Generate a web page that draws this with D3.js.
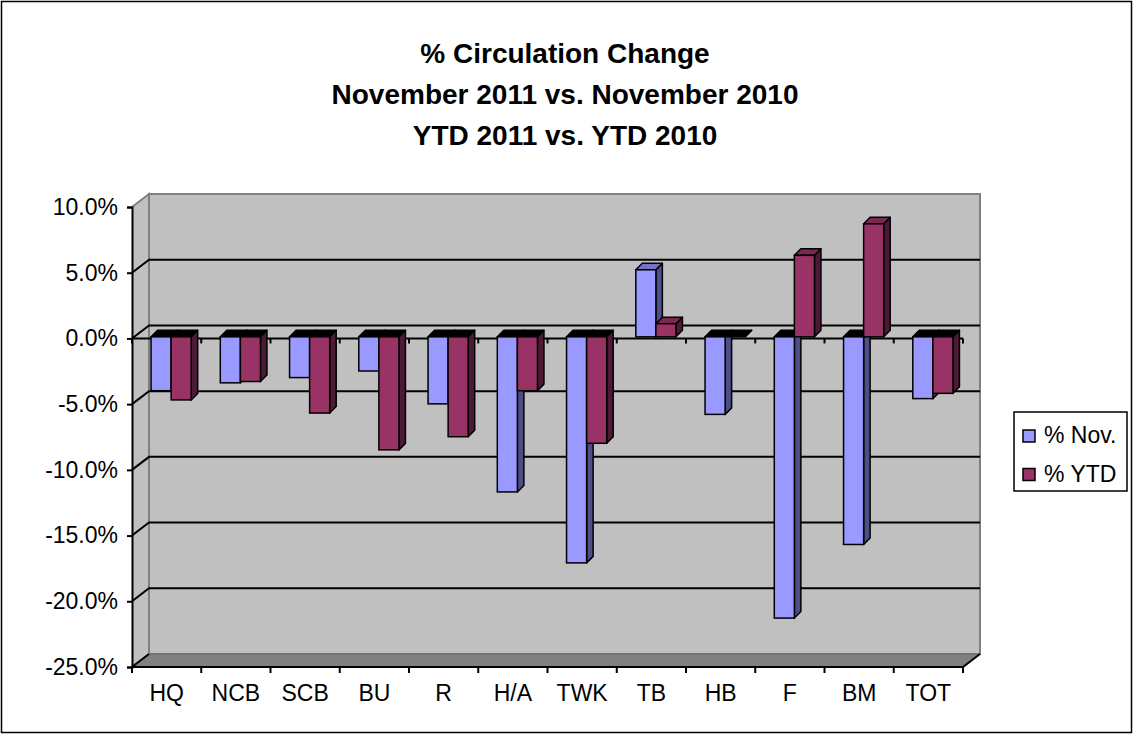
<!DOCTYPE html>
<html>
<head>
<meta charset="utf-8">
<script src="https://cdn.jsdelivr.net/npm/d3@7"></script>
<style>
  body { margin: 0; background: #fff; }
  svg { display: block; font-family: "Liberation Sans", Arial, sans-serif; }
</style>
</head>
<body>
<svg id="chart" width="1134" height="736"></svg>
<script>
// chart data
const categories = ["HQ", "NCB", "SCB", "BU", "R", "H/A", "TWK", "TB", "HB", "F", "BM", "TOT"];
const novValues = [-4.1, -3.5, -3.1, -2.6, -5.1, -11.8, -17.2, 5.1, -5.9, -21.4, -15.8, -4.7];
const ytdValues = [-4.8, -3.4, -5.8, -8.6, -7.6, -4.1, -8.1, 1.0, 0.0, 6.2, 8.6, -4.3];
const seriesNames = ["% Nov.", "% YTD"];
const yTicks = [10, 5, 0, -5, -10, -15, -20, -25];
const titleLines = ["% Circulation Change", "November 2011 vs. November 2010", "YTD 2011 vs. YTD 2010"];

// colours: front, side, top (positive), top (negative)
const colors = [
  { front: "#9999ff", side: "#4d4d88", top: "#7373c8", neg: "#000" },
  { front: "#993366", side: "#4d1a33", top: "#7a2952", neg: "#000" }
];

// layout
const plot = { left: 132, right: 963, top: 207, bottom: 667 };
const depth = { dx: 17, dy: -13 };      // wall depth
const barShift = { dx: 4.5, dy: -1.6 }; // bar front face offset
const barDepth = { dx: 6.5, dy: -6.5 };  // bar thickness
const labelSize = 23;

const svg = d3.select("#chart");

// outer frame
svg.append("rect")
  .attr("x", 1.5).attr("y", 1.5)
  .attr("width", 1130).attr("height", 731)
  .attr("fill", "#fff").attr("stroke", "#000").attr("stroke-width", 1.5);

// title
svg.append("g")
  .selectAll("text")
  .data(titleLines)
  .join("text")
  .attr("x", 565)
  .attr("y", (d, i) => 63 + i * 41)
  .attr("text-anchor", "middle")
  .attr("font-size", 28)
  .attr("font-weight", "bold")
  .text(d => d);

// scales
const x = d3.scaleBand().domain(categories).range([plot.left, plot.right]);
const y = d3.scaleLinear().domain([-25, 10]).range([plot.bottom, plot.top]);
const catW = x.bandwidth();
const barW = catW / 3.45;
const inner = d3.scaleBand().domain(seriesNames).range([0, barW * 2]);
const groupPad = (catW - barW * 2) / 2;

// walls
const back = svg.append("g");
back.append("rect")
  .attr("x", plot.left + depth.dx).attr("y", plot.top + depth.dy)
  .attr("width", plot.right - plot.left).attr("height", plot.bottom - plot.top)
  .attr("fill", "#c0c0c0").attr("stroke", "#808080").attr("stroke-width", 2);

// side wall
back.append("path")
  .attr("d", d3.line()([
    [plot.left, plot.top], [plot.left + depth.dx, plot.top + depth.dy],
    [plot.left + depth.dx, plot.bottom + depth.dy], [plot.left, plot.bottom]
  ]))
  .attr("fill", "#c0c0c0").attr("stroke", "#808080").attr("stroke-width", 2);

// floor
back.append("path")
  .attr("d", d3.line()([
    [plot.left, plot.bottom], [plot.left + depth.dx, plot.bottom + depth.dy],
    [plot.right + depth.dx, plot.bottom + depth.dy], [plot.right, plot.bottom]
  ]) + "Z")
  .attr("fill", "#808080").attr("stroke", "#666").attr("stroke-width", 1);

// gridlines (back wall + side wall)
const gridTicks = yTicks.filter(t => t < 10 && t > -25);
back.selectAll(".grid")
  .data(gridTicks)
  .join("path")
  .attr("class", "grid")
  .attr("d", t => d3.line()([
    [plot.left, y(t)],
    [plot.left + depth.dx, y(t) + depth.dy],
    [plot.right + depth.dx, y(t) + depth.dy]
  ]))
  .attr("fill", "none").attr("stroke", "#000").attr("stroke-width", 2);

// bottom edges
back.append("path")
  .attr("d", d3.line()([
    [plot.left + depth.dx, plot.bottom + depth.dy], [plot.left, plot.bottom],
    [plot.right, plot.bottom], [plot.right + depth.dx, plot.bottom + depth.dy]
  ]))
  .attr("fill", "none").attr("stroke", "#000").attr("stroke-width", 2);

// zero axis line with category ticks
const boundaries = d3.range(categories.length + 1).map(i => plot.left + i * catW);
back.append("line")
  .attr("x1", plot.left).attr("x2", plot.right)
  .attr("y1", y(0)).attr("y2", y(0))
  .attr("stroke", "#000").attr("stroke-width", 2);
back.selectAll(".zt")
  .data(boundaries)
  .join("line")
  .attr("class", "zt")
  .attr("x1", d => d).attr("x2", d => d)
  .attr("y1", y(0)).attr("y2", y(0) + 5)
  .attr("stroke", "#000").attr("stroke-width", 2);

// bottom category ticks
back.selectAll(".bt")
  .data(boundaries)
  .join("line")
  .attr("class", "bt")
  .attr("x1", d => d).attr("x2", d => d)
  .attr("y1", plot.bottom).attr("y2", plot.bottom + 6)
  .attr("stroke", "#000").attr("stroke-width", 2);

// y axis
svg.append("g")
  .attr("transform", `translate(${plot.left},0)`)
  .call(d3.axisLeft(y).tickValues(yTicks).tickSize(5).tickPadding(9)
    .tickFormat(d => d.toFixed(1) + "%"))
  .call(g => g.select(".domain").attr("stroke-width", 2))
  .call(g => g.selectAll(".tick line").attr("stroke-width", 2))
  .call(g => g.selectAll("text").attr("font-size", labelSize).attr("fill", "#000")
    .attr("font-family", "Liberation Sans, Arial, sans-serif"));

// x labels
svg.append("g")
  .attr("transform", `translate(0,${plot.bottom})`)
  .call(d3.axisBottom(x).tickSize(0).tickPadding(18))
  .call(g => g.select(".domain").remove())
  .call(g => g.selectAll("text").attr("font-size", labelSize).attr("fill", "#000")
    .attr("font-family", "Liberation Sans, Arial, sans-serif"));

// bars
const barData = [];
categories.forEach((c, i) => {
  [novValues[i], ytdValues[i]].forEach((v, s) => {
    barData.push({ cat: c, series: seriesNames[s], s, value: v });
  });
});

const bars = svg.append("g")
  .selectAll("g")
  .data(barData)
  .join("g");

function faces(d) {
  const x0 = x(d.cat) + groupPad + inner(d.series) + barShift.dx;
  const x1 = x0 + barW;
  const yz = y(0) + barShift.dy;
  const yv = y(d.value) + barShift.dy;
  const yTop = Math.min(yz, yv), yBot = Math.max(yz, yv);
  return { x0, x1, yTop, yBot };
}

bars.append("path")
  .attr("d", d => {
    const f = faces(d);
    return d3.line()([
      [f.x1, f.yTop], [f.x1 + barDepth.dx, f.yTop + barDepth.dy],
      [f.x1 + barDepth.dx, f.yBot + barDepth.dy], [f.x1, f.yBot]
    ]) + "Z";
  })
  .attr("fill", d => colors[d.s].side)
  .attr("stroke", "#000").attr("stroke-width", 1.5).attr("stroke-linejoin", "round");

bars.append("path")
  .attr("d", d => {
    const f = faces(d);
    return d3.line()([
      [f.x0, f.yTop], [f.x0 + barDepth.dx, f.yTop + barDepth.dy],
      [f.x1 + barDepth.dx, f.yTop + barDepth.dy], [f.x1, f.yTop]
    ]) + "Z";
  })
  .attr("fill", d => d.value > 0 ? colors[d.s].top : colors[d.s].neg)
  .attr("stroke", "#000").attr("stroke-width", 1.5).attr("stroke-linejoin", "round");

bars.append("rect")
  .attr("x", d => faces(d).x0)
  .attr("y", d => faces(d).yTop)
  .attr("width", barW)
  .attr("height", d => faces(d).yBot - faces(d).yTop)
  .attr("fill", d => colors[d.s].front)
  .attr("stroke", "#000").attr("stroke-width", 1.5);

// legend
const legend = svg.append("g").attr("transform", "translate(1014,412)");
legend.append("rect")
  .attr("width", 113).attr("height", 79)
  .attr("fill", "#fff").attr("stroke", "#000").attr("stroke-width", 1.5);
const items = legend.selectAll(".item")
  .data(seriesNames)
  .join("g")
  .attr("class", "item")
  .attr("transform", (d, i) => `translate(0,${i * 38.5})`);
items.append("rect")
  .attr("x", 9).attr("y", 18).attr("width", 12).attr("height", 12)
  .attr("fill", (d, i) => colors[i].front)
  .attr("stroke", "#000").attr("stroke-width", 1.5);
items.append("text")
  .attr("x", 30).attr("y", 31)
  .attr("font-size", labelSize)
  .text(d => d);
</script>
</body>
</html>
